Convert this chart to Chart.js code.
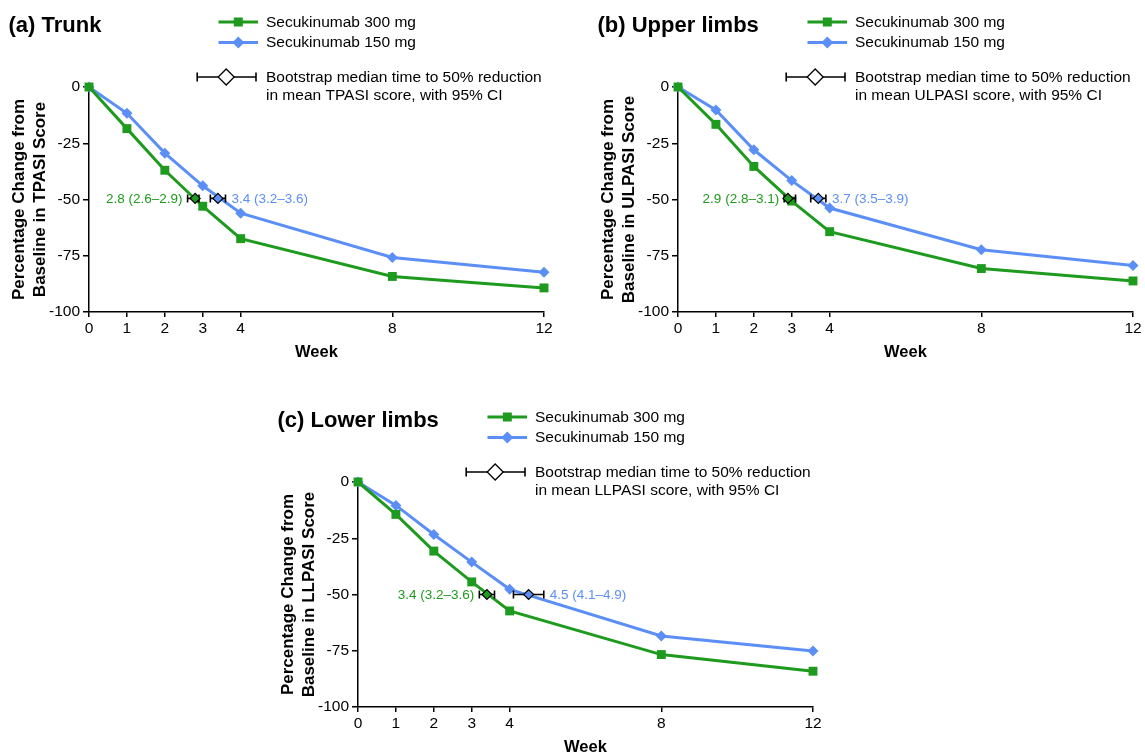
<!DOCTYPE html>
<html><head><meta charset="utf-8">
<script src="https://cdn.jsdelivr.net/npm/chart.js@4.4.1/dist/chart.umd.min.js"></script>
<style>
html,body{margin:0;padding:0;background:#fff;width:1145px;height:755px;overflow:hidden;position:relative}
canvas{position:absolute}
</style></head><body>
<canvas id="ca" width="561" height="374" style="left:-3px;top:0px"></canvas>
<canvas id="cb" width="561" height="374" style="left:586px;top:0px"></canvas>
<canvas id="cc" width="561" height="374" style="left:266px;top:395px"></canvas>
<script>
// ---------- data ----------
const weeks = [0, 1, 2, 3, 4, 8, 12];
const xTicks = [0, 1, 2, 3, 4, 8, 12];
const yTicks = [0, -25, -50, -75, -100];
const panelTitles = ['(a) Trunk', '(b) Upper limbs', '(c) Lower limbs'];
const scoreNames = ['TPASI', 'ULPASI', 'LLPASI'];
const seriesNames = ['Secukinumab 300 mg', 'Secukinumab 150 mg'];
const ciLegendText = ['Bootstrap median time to 50% reduction', 'score, with 95% CI'];

const trunk300 = [0, -18.5, -37.0, -53.0, -67.4, -84.2, -89.3];
const trunk150 = [0, -11.7, -29.4, -43.9, -56.1, -75.8, -82.3];
const upper300 = [0, -16.6, -35.3, -50.7, -64.3, -80.7, -86.2];
const upper150 = [0, -10.2, -27.9, -41.6, -53.8, -72.3, -79.3];
const lower300 = [0, -14.4, -30.7, -44.4, -57.3, -76.7, -84.1];
const lower150 = [0, -10.4, -23.3, -35.6, -47.7, -68.4, -75.1];

const median300 = [2.8, 2.9, 3.4];
const ciLow300  = [2.6, 2.8, 3.2];
const ciHigh300 = [2.9, 3.1, 3.6];
const median150 = [3.4, 3.7, 4.5];
const ciLow150  = [3.2, 3.5, 4.1];
const ciHigh150 = [3.6, 3.9, 4.9];
const medianLevel = [-49.5, -49.5, -50];

// ---------- style ----------
const GREEN = '#1e9a1e';
const BLUE = '#5b8ff6';
const FONT = "'Liberation Sans', Arial, Helvetica, sans-serif";
Chart.defaults.font.family = FONT;
Chart.defaults.color = '#000';

function fmt(v){ return v.toFixed(1); }

function drawSquare(ctx, x, y, side, color){
  ctx.fillStyle = color;
  ctx.fillRect(x - side/2, y - side/2, side, side);
}
function drawDiamond(ctx, x, y, r, fill, stroke, lw){
  ctx.beginPath();
  ctx.moveTo(x, y - r); ctx.lineTo(x + r, y); ctx.lineTo(x, y + r); ctx.lineTo(x - r, y); ctx.closePath();
  ctx.fillStyle = fill; ctx.fill();
  if (stroke){ ctx.strokeStyle = stroke; ctx.lineWidth = lw; ctx.stroke(); }
}
function drawWhisker(ctx, x1, x2, y, cap){
  ctx.save();
  ctx.strokeStyle = '#000'; ctx.lineWidth = 1.6;
  ctx.beginPath();
  ctx.moveTo(x1, y); ctx.lineTo(x2, y);
  ctx.moveTo(x1, y - cap/2); ctx.lineTo(x1, y + cap/2);
  ctx.moveTo(x2, y - cap/2); ctx.lineTo(x2, y + cap/2);
  ctx.stroke();
  ctx.restore();
}

const panelPlugin = {
  id: 'panelDecor',
  beforeDraw(chart){ chart.$whiskersDone = false; },
  beforeDatasetDraw(chart, args){
    const ds = chart.data.datasets[args.index];
    if (!ds.isMedian || chart.$whiskersDone) return;
    chart.$whiskersDone = true;
    const i = chart.$panel;
    const xs = chart.scales.x, ys = chart.scales.y;
    const ctx = chart.ctx;
    const yy = ys.getPixelForValue(medianLevel[i]);
    drawWhisker(ctx, xs.getPixelForValue(ciLow300[i]), xs.getPixelForValue(ciHigh300[i]), yy, 8);
    drawWhisker(ctx, xs.getPixelForValue(ciLow150[i]), xs.getPixelForValue(ciHigh150[i]), yy, 8);
  },
  afterDraw(chart){
    const i = chart.$panel;
    const ctx = chart.ctx;
    const L = chart.chartArea.left, T = chart.chartArea.top;
    const xs = chart.scales.x, ys = chart.scales.y;
    ctx.save();
    // panel title
    ctx.fillStyle = '#000';
    ctx.font = 'bold 22px ' + FONT;
    ctx.textAlign = 'left'; ctx.textBaseline = 'middle';
    ctx.fillText(panelTitles[i], L - 80.5, T - 61.5);
    // series legend
    const legY = [T - 65, T - 44.4];
    const colors = [GREEN, BLUE];
    for (let k = 0; k < 2; k++){
      ctx.strokeStyle = colors[k]; ctx.lineWidth = 3;
      ctx.beginPath(); ctx.moveTo(L + 129.5, legY[k]); ctx.lineTo(L + 169, legY[k]); ctx.stroke();
      if (k === 0) drawSquare(ctx, L + 149.3, legY[k], 9, GREEN);
      else drawDiamond(ctx, L + 149.3, legY[k], 6, BLUE);
      ctx.fillStyle = '#000';
      ctx.font = '15.5px ' + FONT;
      ctx.textAlign = 'left'; ctx.textBaseline = 'middle';
      ctx.fillText(seriesNames[k], L + 177, legY[k] + 0.5);
    }
    // bootstrap CI legend
    const by = T - 10;
    drawWhisker(ctx, L + 108.2, L + 167, by, 9);
    drawDiamond(ctx, L + 137.2, by, 8, '#fff', '#000', 1.3);
    ctx.fillStyle = '#000';
    ctx.font = '15.5px ' + FONT;
    ctx.textAlign = 'left'; ctx.textBaseline = 'middle';
    ctx.fillText(ciLegendText[0], L + 177, T - 9.5);
    ctx.fillText('in mean ' + scoreNames[i] + ' ' + ciLegendText[1], L + 177, T + 8.5);
    // median labels
    const yy = ys.getPixelForValue(medianLevel[i]);
    ctx.font = '13.5px ' + FONT;
    ctx.fillStyle = GREEN; ctx.textAlign = 'right';
    ctx.fillText(fmt(median300[i]) + ' (' + fmt(ciLow300[i]) + '\u2013' + fmt(ciHigh300[i]) + ')', xs.getPixelForValue(ciLow300[i]) - 5, yy + 0.5);
    ctx.fillStyle = BLUE; ctx.textAlign = 'left';
    ctx.fillText(fmt(median150[i]) + ' (' + fmt(ciLow150[i]) + '\u2013' + fmt(ciHigh150[i]) + ')', xs.getPixelForValue(ciHigh150[i]) + 6, yy + 0.5);
    ctx.restore();
  }
};

function makePanel(canvasId, i, v300, v150){
  const pts = arr => weeks.map((w, j) => ({x: w, y: arr[j]}));
  const chart = new Chart(document.getElementById(canvasId), {
    type: 'line',
    data: {
      datasets: [
        {label: seriesNames[0], data: pts(v300), borderColor: GREEN, backgroundColor: GREEN,
         borderWidth: 3, pointStyle: 'rect', pointRadius: 6.3, pointBorderWidth: 0,
         pointBackgroundColor: GREEN, clip: false, order: 1, tension: 0},
        {label: seriesNames[1], data: pts(v150), borderColor: BLUE, backgroundColor: BLUE,
         borderWidth: 3, pointStyle: 'rectRot', pointRadius: 5.5, pointBorderWidth: 0,
         pointBackgroundColor: BLUE, clip: false, order: 2, tension: 0},
        {label: 'median300', isMedian: true, data: [{x: median300[i], y: medianLevel[i]}], showLine: false,
         pointStyle: 'rectRot', pointRadius: 5, pointBackgroundColor: GREEN, pointBorderColor: '#000',
         pointBorderWidth: 1.2, clip: false, order: 0},
        {label: 'median150', isMedian: true, data: [{x: median150[i], y: medianLevel[i]}], showLine: false,
         pointStyle: 'rectRot', pointRadius: 5, pointBackgroundColor: BLUE, pointBorderColor: '#000',
         pointBorderWidth: 1.2, clip: false, order: 0}
      ]
    },
    options: {
      responsive: false, animation: false, devicePixelRatio: 1,
      layout: {padding: {left: 0, top: 87, right: 14, bottom: 0}},
      plugins: {legend: {display: false}, tooltip: {enabled: false}, title: {display: false}},
      scales: {
        x: {
          type: 'linear', min: 0, max: 12,
          afterBuildTicks: s => { s.ticks = xTicks.map(v => ({value: v})); },
          afterFit: s => { s.height = 62; },
          grid: {drawOnChartArea: false, drawTicks: true, tickLength: 5, color: '#000', lineWidth: 1.5},
          border: {display: true, color: '#000', width: 1.5},
          ticks: {color: '#000', font: {size: 15.5}, padding: 2, autoSkip: false, maxRotation: 0, callback: v => String(v)},
          title: {display: true, text: 'Week', color: '#000', font: {size: 16.5, weight: 'bold'}, padding: {top: 0, bottom: 12}}
        },
        y: {
          type: 'linear', min: -100, max: 0,
          afterBuildTicks: s => { s.ticks = yTicks.map(v => ({value: v})); },
          afterFit: s => { s.width = 92; },
          grid: {drawOnChartArea: false, drawTicks: true, tickLength: 6, color: '#000', lineWidth: 1.5},
          border: {display: true, color: '#000', width: 1.5},
          ticks: {color: '#000', font: {size: 15.5}, padding: 3, callback: v => String(v)},
          title: {display: true, text: ['Percentage Change from', 'Baseline in ' + scoreNames[i] + ' Score'],
                  color: '#000', font: {size: 17, weight: 'bold', lineHeight: 1.21}, padding: {top: 12, bottom: 0}}
        }
      }
    },
    plugins: [panelPlugin]
  });
  chart.$panel = i;
  chart.draw();
  return chart;
}

Chart.register({id: 'panelIndex', beforeInit(chart){ chart.$panel = {ca: 0, cb: 1, cc: 2}[chart.canvas.id]; }});

makePanel('ca', 0, trunk300, trunk150);
makePanel('cb', 1, upper300, upper150);
makePanel('cc', 2, lower300, lower150);
</script>
</body></html>
